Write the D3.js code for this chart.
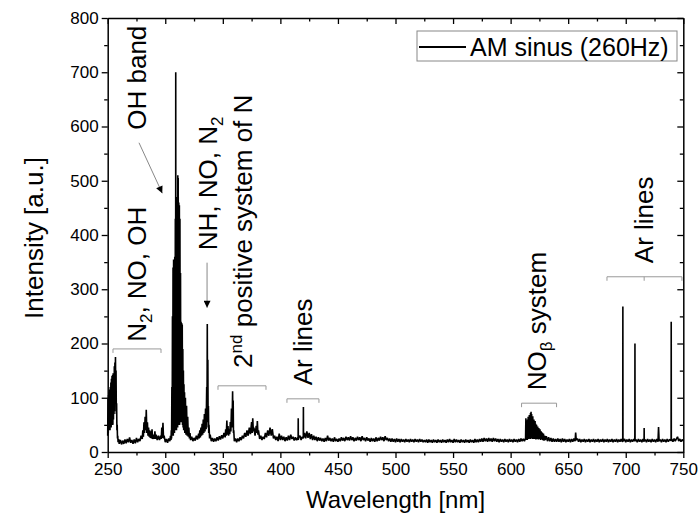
<!DOCTYPE html>
<html><head><meta charset="utf-8">
<script src="https://cdn.jsdelivr.net/npm/d3@7"></script>
<style>
body{margin:0;background:#fff;}
svg text{font-family:"Liberation Sans",Arial,sans-serif;fill:#000;}
</style></head><body>
<svg id="chart" width="699" height="521"></svg>
<script>
// ---------------- data ----------------
const xMajorTicks=[250,300,350,400,450,500,550,600,650,700,750];
const xMinorTicks=[275,325,375,425,475,525,575,625,675,725];
const yMajorTicks=[0,100,200,300,400,500,600,700,800];
const yMinorTicks=[50,150,250,350,450,550,650,750];
const xTitle="Wavelength [nm]";
const yTitle="Intensity [a.u.]";
const seriesName="AM sinus (260Hz)";

// [wavelength nm, intensity a.u.]
const spectrum=[
[250,30],[250.25,100],[250.5,35],[250.75,105],[251,40],[251.25,110],[251.5,45],[251.75,115],[252,40],[252.25,120],[252.5,50],[252.75,128],[253,45],[253.25,135],[253.5,50],[253.75,140],[254,55],[254.25,142],[254.5,50],[254.75,145],[255,60],[255.25,140],[255.5,70],[255.75,158],[256,75],[256.25,165],[256.5,90],[256.75,175],[257,100],[257.25,150],[257.5,70],[257.75,90],[258,40],[258.25,50],[258.5,25],[258.75,30],[259,18],[259.5,24],[260,15],
[261,22],[262,14],[263,21],[264,15],[265,23],[266,16],[267,24],[268,18],[269,27],[270,17],[271,22],[272,15],[273,23],[274,16],[275,26],[276,18],[277,24],[278,20],[279,30],[280,24],[280.5,40],[281,28],[281.5,55],[282,35],[282.5,65],[283,40],[283.5,78],[284,35],[284.5,55],[285,30],[285.5,45],[286,28],[286.5,40],[287,26],[287.5,38],[288,25],[288.5,42],[289,24],[290,32],[290.5,24],[291,38],[291.5,24],[292,32],[293,22],[294,30],[295,22],[296,30],[296.5,24],[297,45],[297.5,26],[298,54],[298.5,25],[299,30],[300,18],[301,24],[302,17],[303,25],[304,20],[304.5,30],[305,22],
[305.25,40],[305.5,25],[305.75,120],[306,30],[306.25,250],[306.5,40],[306.75,340],[307,30],[307.25,355],[307.5,40],[307.75,350],[308,35],[308.25,360],[308.5,45],[308.75,430],[309,40],[309.1,700],[309.25,45],[309.5,460],[309.75,40],[310,470],[310.25,50],[310.5,465],[310.75,45],[310.9,510],[311.1,50],[311.25,505],[311.5,50],[311.75,460],[312,55],[312.25,455],[312.5,50],[312.75,430],[313,60],[313.25,330],[313.5,55],[313.75,240],[314,60],[314.25,238],[314.5,55],[314.75,235],[315,50],[315.25,190],[315.5,45],[315.75,150],[316,40],[316.25,125],[316.5,40],[316.75,110],[317,35],[317.5,100],[318,32],[318.5,85],[319,30],[319.5,65],[320,28],[320.5,45],[321,25],[321.5,35],[322,22],[323,28],[324,20],
[325,26],[326,21],[327,30],[328,23],[329,34],[329.5,25],[330,40],[330.5,27],[331,45],[331.5,30],[332,52],[332.5,32],[333,60],[333.5,35],[334,70],[334.5,38],[335,80],[335.5,42],[336,120],[336.25,55],[336.5,236],[336.75,60],[337,170],[337.25,45],[337.5,85],[337.75,35],[338,50],[338.5,25],[339,32],[340,20],[341,26],
[342,19],[343,25],[344,20],[345,27],[346,21],[347,29],[348,23],[349,31],[350,25],[351,35],[352,27],[352.5,42],[353,30],[353.5,58],[354,32],[354.5,48],[355,30],[355.5,42],[356,33],[356.5,55],[357,38],[357.5,80],[358,45],[358.5,112],[358.75,60],[359,95],[359.25,35],[359.5,40],[360,20],[361,25],
[362,18],[363,25],[364,20],[365,27],[366,22],[367,30],[368,25],[369,35],[370,28],[371,40],[372,30],[373,45],[374,33],[375,55],[375.5,35],[376,62],[376.5,38],[377,45],[378,30],[379,48],[379.5,35],[380,57],[380.5,32],[381,40],[382,24],[383,30],[384,22],[385,28],[386,24],[387,35],[388,27],[389,40],[390,30],[391,45],[392,30],[393,42],[394,25],[395,30],[396,22],[397,28],[398,20],[399,34],[400,22],
[401,30],[402,22],[403,28],[404,20],[405,27],[406,21],[407,30],[408,22],[409,32],[410,24],[411,28],[412,21],[413,27],[414,22],[415,26],[415.4,22],[415.5,62],[415.6,23],[416,28],[417,30],[418,22],[419,28],[419.9,25],[420,83],[420.1,26],[421,35],[422,25],[423,38],[424,26],[425,35],[426,24],[427,33],[428,22],[429,30],[430,22],[431,28],[432,20],[433,27],[434,21],[435,26],[436,20],[437,25],[438,19],[439,26],[440,20],[441,30],[442,21],[443,26],[444,20],[445,25],[446,19],[447,27],[448,20],[449,24],[450,19],
[451,25],[452,20],[453,27],[454,21],[455,26],[456,20],[457,28],[458,22],[459,27],[460,21],[461,29],[462,22],[463,27],[464,20],[465,26],[466,21],[467,28],[468,22],[469,27],[470,20],[471,29],[472,22],[473,26],[474,20],[475,27],[476,21],[477,25],[478,19],[479,26],[480,20],[481,25],[482,19],[483,27],[484,20],[485,26],[486,21],[487,28],[488,22],[489,27],[490,20],[491,29],[492,22],[493,26],[494,20],[495,25],[496,19],[497,25],[498,19],[499,24],[500,18],
[501,25],[502,19],[503,24],[504,18],[505,24],[506,19],[507,23],[508,18],[509,24],[510,19],[511,23],[512,18],[513,24],[514,19],[515,23],[516,18],[517,24],[518,19],[519,23],[520,18],[521,24],[522,19],[523,23],[524,18],[525,22],[526,18],[527,23],[528,17],[529,23],[530,18],[531,22],[532,17],[533,23],[534,18],[535,22],[536,17],[537,23],[538,18],[539,22],[540,17],[541,23],[542,18],[543,22],[544,17],[545,23],[546,18],[547,24],[548,18],[549,22],[550,17],
[551,24],[552,18],[553,23],[554,18],[555,22],[556,17],[557,23],[558,18],[559,22],[560,17],[561,23],[562,18],[563,22],[564,17],[565,23],[566,18],[567,22],[568,17],[569,24],[570,18],[571,23],[572,18],[573,24],[574,19],[575,25],[576,19],[577,26],[578,20],[579,25],[580,19],[581,26],[582,20],[583,25],[584,19],[585,26],[586,20],[587,25],[588,19],[589,24],[590,18],[591,24],[592,19],[593,23],[594,18],[595,24],[596,19],[597,23],[598,18],[599,24],[600,19],
[601,23],[602,18],[603,24],[604,19],[605,23],[606,18],[607,24],[608,19],[609,25],[610,20],[611,24],[612,20],[613,26],
[613.25,62],[613.5,22],[613.75,58],[614,25],[614.25,55],[614.5,22],[614.75,60],[615,25],[615.25,65],[615.5,24],[615.75,60],[616,25],[616.25,68],[616.5,26],[616.75,64],[617,24],[617.25,72],[617.5,26],[617.75,74],[618,25],[618.25,70],[618.5,26],[618.75,62],[619,24],[619.25,66],[619.5,25],[619.75,58],[620,24],[620.25,60],[620.5,25],[620.75,55],[621,24],[621.25,57],[621.5,25],[621.75,52],[622,23],[622.5,50],[623,24],[623.5,47],[624,23],[624.5,44],[625,24],[625.5,42],[626,22],[626.5,38],[627,23],[627.5,36],[628,22],[628.5,34],[629,21],[629.5,30],[630,22],
[631,29],[632,20],[633,27],[634,20],[635,26],[636,19],[637,25],[638,19],[639,24],[640,19],[641,25],[642,19],[643,24],[644,18],[645,25],[646,19],[647,24],[648,18],[649,23],[650,19],[651,24],[652,18],[653,24],[654,19],[655,25],[656,20],[656.5,36],[657,22],[658,25],[659,19],[660,24],
[661,18],[662,23],[663,19],[664,24],[665,18],[666,23],[667,19],[668,24],[669,18],[670,23],[671,19],[672,24],[673,18],[674,23],[675,19],[676,24],[677,18],[678,23],[679,19],[680,24],[681,18],[682,23],[683,19],[684,24],[685,18],[686,23],[687,19],[688,24],[689,18],[690,23],[691,19],[692,24],[693,18],[694,23],[695,19],[696,24],[697,19],[697.4,20],[697.5,268],[697.6,21],[698,20],[699,24],[700,18],
[701,23],[702,19],[703,24],[704,18],[705,23],[706,19],[707,24],[707.9,20],[708,200],[708.1,20],[709,23],[710,18],[711,24],[712,19],[713,23],[714,18],[715,24],[715.9,19],[716,44],[716.1,20],[717,23],[718,18],[719,24],[720,19],[721,23],[722,18],[723,24],[724,19],[725,23],[726,18],[727,24],[728,19],[728.5,46],[729,20],[730,23],
[731,18],[732,24],[733,19],[734,23],[735,18],[736,24],[737,19],[738,23],[739.4,21],[739.5,240],[739.6,20],[740,24],[741,19],[742,25],[743,20],[744,24],[745,28],[746,20],[747,24],[748,19],[749,23],[750,20]
];

// annotation texts: pieces of [text, kind] with kind n=normal, sub, sup
const annotationTexts=[
  [["N","n"],["2","sub"],[", NO, OH","n"]],
  [["OH band","n"]],
  [["NH, NO, N","n"],["2","sub"]],
  [["2","n"],["nd","sup"],[" positive system of N","n"]],
  [["Ar lines","n"]],
  [["NO","n"],["β","sub"],[" system","n"]],
  [["Ar lines","n"]]
];

// ---------------- layout ----------------
const svg=d3.select("#chart");
const x=d3.scaleLinear().domain([250,750]).range([107.7,683.3]);
const y=d3.scaleLinear().domain([0,800]).range([452,18]);

// anchor points (data coords) for rotated annotation texts: text starts at bottom
const annotationAnchors=[[283.3,203],[283.3,594],[344.9,372],[375.3,155],[427.5,123],[631.0,114],[723.7,348]];
// brackets [x0,x1,yLevel,midX|null]
const brackets=[[254.6,296.3,190,null],[345.8,387.5,122,null],[405.7,433.5,98,null],[609.5,639.9,90,null],[683.7,748.8,323,716]];
// arrows [[x0,y0],[x1,y1]]
const arrows=[[[277.2,570],[297.4,477]],[[336.3,349],[336.3,266]]];

const defs=svg.append("defs");
defs.append("marker").attr("id","ah").attr("viewBox","0 0 10 10").attr("refX",10).attr("refY",5)
  .attr("markerWidth",9).attr("markerHeight",7).attr("markerUnits","userSpaceOnUse").attr("orient","auto")
  .append("path").attr("d","M0,0L10,5L0,10Z").attr("fill","#000");

// spectrum line
svg.append("path").datum(spectrum)
  .attr("d",d3.line().x(d=>x(d[0])).y(d=>y(d[1])))
  .attr("fill","none").attr("stroke","#000").attr("stroke-width",1.6).attr("stroke-linejoin","bevel");

// axes
function styleAxis(g){
  g.attr("font-family",null).attr("font-size",null);
  g.selectAll("path.domain").attr("stroke","#000").attr("stroke-width",1.5);
  g.selectAll(".tick line").attr("stroke","#000").attr("stroke-width",1.3);
  g.selectAll(".tick text").attr("font-size",17).attr("fill","#000");
}
svg.append("g").attr("transform",`translate(0,${y(0)})`)
  .call(d3.axisBottom(x).tickValues(xMajorTicks).tickSize(6).tickSizeOuter(0).tickPadding(5).tickFormat(d3.format("d"))).call(styleAxis);
svg.append("g").attr("transform",`translate(0,${y(0)})`)
  .call(d3.axisBottom(x).tickValues(xMinorTicks).tickSize(3.5).tickFormat("")).call(styleAxis).select(".domain").remove();
svg.append("g").attr("transform",`translate(0,${y(800)})`)
  .call(d3.axisTop(x).tickValues(xMajorTicks).tickSize(-6).tickSizeOuter(0).tickFormat("")).call(styleAxis);
svg.append("g").attr("transform",`translate(0,${y(800)})`)
  .call(d3.axisTop(x).tickValues(xMinorTicks).tickSize(-3.5).tickFormat("")).call(styleAxis).select(".domain").remove();
svg.append("g").attr("transform",`translate(${x(250)},0)`)
  .call(d3.axisLeft(y).tickValues(yMajorTicks).tickSize(6).tickSizeOuter(0).tickPadding(3).tickFormat(d3.format("d"))).call(styleAxis);
svg.append("g").attr("transform",`translate(${x(250)},0)`)
  .call(d3.axisLeft(y).tickValues(yMinorTicks).tickSize(3.5).tickFormat("")).call(styleAxis).select(".domain").remove();
svg.append("g").attr("transform",`translate(${x(750)},0)`)
  .call(d3.axisRight(y).tickValues(yMajorTicks).tickSize(-6).tickSizeOuter(0).tickFormat("")).call(styleAxis);
svg.append("g").attr("transform",`translate(${x(750)},0)`)
  .call(d3.axisRight(y).tickValues(yMinorTicks).tickSize(-3.5).tickFormat("")).call(styleAxis).select(".domain").remove();

// axis titles
svg.append("text").attr("x",(x(250)+x(750))/2).attr("y",508).attr("text-anchor","middle").attr("font-size",24).text(xTitle);
svg.append("text").attr("transform",`translate(43,${(y(0)+y(800))/2+3}) rotate(-90)`).attr("text-anchor","middle").attr("font-size",26).text(yTitle);

// legend
const lg=svg.append("g");
lg.append("rect").attr("x",417).attr("y",31).attr("width",260).attr("height",30).attr("fill","#fff").attr("stroke","#888").attr("stroke-width",1);
lg.append("line").attr("x1",419).attr("x2",466).attr("y1",47).attr("y2",47).attr("stroke","#000").attr("stroke-width",2);
lg.append("text").attr("x",470).attr("y",56).attr("font-size",25).text(seriesName);

// brackets
brackets.forEach(b=>{
  const x0=x(b[0]),x1=x(b[1]),yy=y(b[2]);
  let d=`M${x0},${yy+4}V${yy}H${x1}V${yy+4}`;
  if(b[3]!==null){const xm=x(b[3]);d+=`M${xm},${yy}V${yy+4}`;}
  svg.append("path").attr("d",d).attr("fill","none").attr("stroke","#999").attr("stroke-width",1);
});

// arrows
arrows.forEach(a=>{
  svg.append("line").attr("x1",x(a[0][0])).attr("y1",y(a[0][1])).attr("x2",x(a[1][0])).attr("y2",y(a[1][1]))
    .attr("stroke","#888").attr("stroke-width",1).attr("marker-end","url(#ah)");
});

// rotated annotation texts
annotationTexts.forEach((parts,i)=>{
  const a=annotationAnchors[i];
  const t=svg.append("text").attr("transform",`translate(${x(a[0])},${y(a[1])}) rotate(-90)`).attr("font-size",26);
  let shift=0;
  parts.forEach(p=>{
    const ts=t.append("tspan").text(p[0]);
    let target=0;
    if(p[1]==="sub"){ts.attr("font-size",17);target=6;}
    else if(p[1]==="sup"){ts.attr("font-size",17);target=-10;}
    if(target!==shift){ts.attr("dy",target-shift);shift=target;}
  });
});
</script>
</body></html>
